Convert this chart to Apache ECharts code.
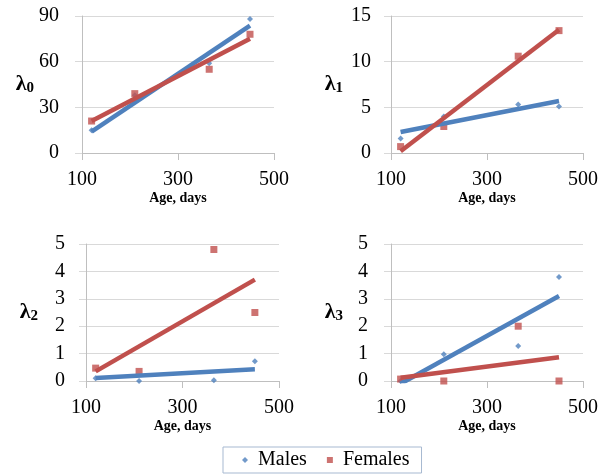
<!DOCTYPE html>
<html>
<head>
<meta charset="utf-8">
<title>lambda vs age</title>
<script src="https://cdn.jsdelivr.net/npm/echarts@6/dist/echarts.min.js"></script>
<style>
    html, body { margin: 0; padding: 0; background: #fff; }
    #chart { width: 615px; height: 474px; }
</style>
</head>
<body>
<div id="chart"></div>
<script>
"use strict"

// 数据
let ages = [120, 210, 365, 450];
let trendAges = [120, 450];

let l0Males = [15, 38, 59, 88];
let l0Females = [21, 39, 55, 78];
let l0MalesTrend = [14, 83.6];
let l0FemalesTrend = [21, 75];

let l1Males = [1.6, 4.0, 5.3, 5.1];
let l1Females = [0.7, 2.9, 10.6, 13.4];
let l1MalesTrend = [2.3, 5.7];
let l1FemalesTrend = [0.2, 13.5];

let l2Males = [0.1, 0.0, 0.03, 0.72];
let l2Females = [0.47, 0.35, 4.8, 2.5];
let l2MalesTrend = [0.11, 0.43];
let l2FemalesTrend = [0.35, 3.7];

let l3Males = [0.0, 0.98, 1.28, 3.8];
let l3Females = [0.07, 0.0, 2.0, 0.0];
let l3MalesTrend = [-0.1, 3.1];
let l3FemalesTrend = [0.12, 0.87];

let xTicks = [100, 300, 500];
let yMax = [90, 15, 5, 5];
let yStep = [30, 5, 1, 1];

let blue = "#4F81BD";
let red = "#C0504D";
let serif = "Liberation Serif";

// 常规字体 (用 rich 保证衬线体生效)
let plainRich = { t: { fontFamily: serif, fontWeight: 400, fontSize: 20, color: "#000" } };

// 四个小图的位置
let grids = [
    { left: 82, width: 192, top: 16, height: 137 },
    { left: 391, width: 192, top: 16, height: 137 },
    { left: 86, width: 193, top: 244, height: 137 },
    { left: 391, width: 192, top: 244, height: 137 }
];
let yLabelMargin = [23, 20, 21, 23];

function pairs(xs, ys) {
    return xs.map((x, i) => [x, ys[i]]);
}

let chart = echarts.init(document.getElementById("chart"));

let xAxes = [];
let yAxes = [];
let series = [];
let panels = [
    [l0Males, l0Females, l0MalesTrend, l0FemalesTrend],
    [l1Males, l1Females, l1MalesTrend, l1FemalesTrend],
    [l2Males, l2Females, l2MalesTrend, l2FemalesTrend],
    [l3Males, l3Females, l3MalesTrend, l3FemalesTrend]
];

panels.forEach((p, i) => {
    xAxes.push({
        gridIndex: i,
        type: "value",
        min: xTicks[0],
        max: xTicks[xTicks.length - 1],
        interval: xTicks[1] - xTicks[0],
        name: "Age, days",
        nameLocation: "middle",
        nameGap: 37,
        nameTextStyle: { fontFamily: serif, fontWeight: "bold", fontSize: 14, color: "#000" },
        axisLine: { lineStyle: { color: "#bfbfbf" } },
        axisTick: { length: 7, lineStyle: { color: "#bfbfbf" } },
        axisLabel: { margin: 17, formatter: "{t|{value}}", rich: plainRich },
        splitLine: { show: false }
    });
    yAxes.push({
        gridIndex: i,
        type: "value",
        min: 0,
        max: yMax[i],
        interval: yStep[i],
        name: "{l|λ}{s|" + i + "}",
        nameLocation: "middle",
        nameRotate: 0,
        nameGap: 48,
        nameTextStyle: {
            rich: {
                l: { fontFamily: serif, fontWeight: "bold", fontSize: 22, lineHeight: 22, color: "#000" },
                s: { fontFamily: serif, fontWeight: "bold", fontSize: 15, lineHeight: 15, verticalAlign: "bottom", color: "#000" }
            }
        },
        axisLine: { show: true, lineStyle: { color: "#bfbfbf" } },
        axisTick: { show: true, length: 7, lineStyle: { color: "#d9d9d9" } },
        axisLabel: { margin: yLabelMargin[i], formatter: "{t|{value}}", rich: plainRich },
        splitLine: { lineStyle: { color: "#d9d9d9" } }
    });

    // 散点
    series.push({
        name: "Males", type: "scatter", xAxisIndex: i, yAxisIndex: i,
        symbol: "diamond", symbolSize: 6, itemStyle: { color: blue }, z: 2,
        data: pairs(ages, p[0])
    });
    series.push({
        name: "Females", type: "scatter", xAxisIndex: i, yAxisIndex: i,
        symbol: "rect", symbolSize: 7, itemStyle: { color: red }, z: 2,
        data: pairs(ages, p[1])
    });
    // 趋势线
    series.push({
        name: "Males trend", type: "line", xAxisIndex: i, yAxisIndex: i,
        symbol: "none", clip: true, lineStyle: { color: blue, width: 4.5 }, z: 3,
        data: pairs(trendAges, p[2])
    });
    series.push({
        name: "Females trend", type: "line", xAxisIndex: i, yAxisIndex: i,
        symbol: "none", clip: true, lineStyle: { color: red, width: 4.5 }, z: 4,
        data: pairs(trendAges, p[3])
    });
});

let option = {
    animation: false,
    backgroundColor: "#fff",
    textStyle: { fontFamily: serif },
    grid: grids,
    xAxis: xAxes,
    yAxis: yAxes,
    legend: {
        left: 223,
        top: 447,
        data: [
            { name: "Males", icon: "diamond" },
            { name: "Females", icon: "rect" }
        ],
        formatter: "{t|{name}}",
        itemWidth: 6,
        itemHeight: 6,
        itemGap: 20,
        padding: [3, 12, 3, 19],
        borderColor: "#a7b9d1",
        borderWidth: 1,
        textStyle: { padding: [0, 0, 0, 5], rich: plainRich }
    },
    series: series
};

chart.setOption(option);
</script>
</body>
</html>
